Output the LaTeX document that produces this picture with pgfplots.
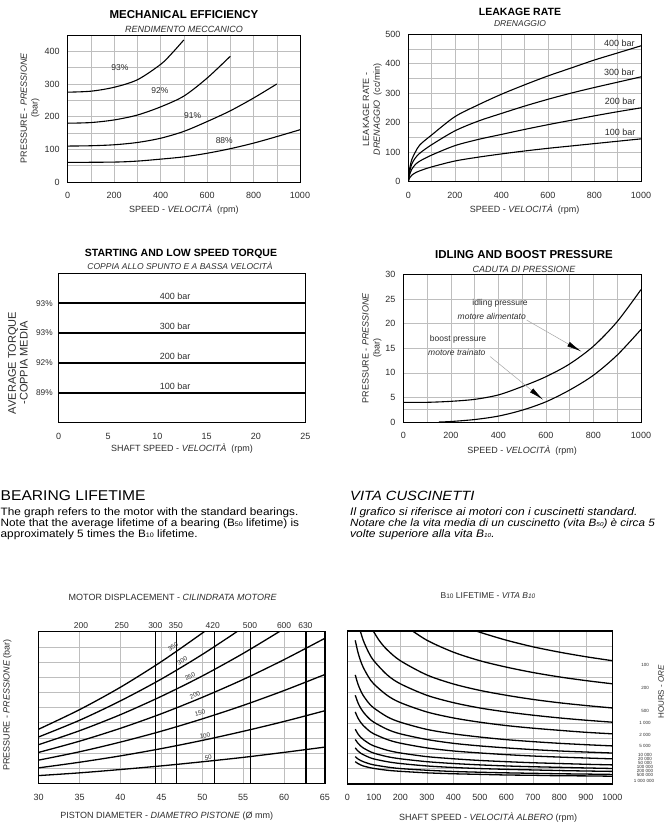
\documentclass[border=0pt]{standalone}
\usepackage{fontspec}
\setmainfont{Liberation Sans}
\newfontfamily\wide[FakeStretch=1.1]{Liberation Sans}
\usepackage{pgfplots}
\pgfplotsset{compat=1.18}
\usetikzlibrary{arrows.meta}
\definecolor{txt}{RGB}{45,45,45}
\definecolor{gridc}{RGB}{190,190,190}
\newcommand{\fsz}[2]{\fontsize{#1}{#2}\selectfont}
\newcommand{\sm}[1]{{\fontsize{6.5}{7}\selectfont #1}}
\newcommand{\smr}[1]{{\fontsize{5.8}{6}\selectfont #1}}
\pgfplotsset{
 mybase/.style={scale only axis, anchor=south west, clip mode=individual,
   font=\fsz{9}{10.8}, /pgf/number format/assume math mode=true, /pgf/number format/1000 sep={},
   axis line style={black, line width=1pt},
   tick label style={text=txt}, label style={text=txt},
   major tick length=0pt, minor tick length=0pt,
   grid style={gridc, line width=0.5pt}, minor grid style={gridc, line width=0.5pt},
   xticklabel style={yshift=-7pt}, yticklabel style={xshift=-4.5pt},
 },
 crv/.style={black, line width=1.1pt, smooth, mark=none},
 brg/.style={black, line width=1.3pt, smooth, mark=none},
}
\begin{document}
\begin{tikzpicture}
\path[use as bounding box, fill=white] (0,0) rectangle (671pt,-825pt);

% ---------------- Panel 1: Mechanical efficiency
\begin{axis}[mybase, at={(67.7pt,-182pt)}, width=232.3pt, height=147pt,
 xmin=0,xmax=1000,ymin=0,ymax=450,
 xtick={0,200,...,1000}, minor xtick={100,300,...,900},
 ytick={0,100,...,400}, minor ytick={50,150,...,450}, grid=both,
 xlabel={SPEED - \textit{VELOCITÀ}\ \ (rpm)},
 xlabel style={at={(axis description cs:0.5,-0.19)}, anchor=center},
 ylabel={PRESSURE - \textit{PRESSIONE}\\(bar)},
 ylabel style={at={(axis description cs:-0.162,0.503)}, anchor=center, align=center},
]
\addplot[crv] coordinates {(0,275)(100,278)(200,290)(300,313)(400,360)(450,395)(500,435)};
\addplot[crv] coordinates {(0,180)(100,182)(200,190)(300,205)(400,230)(500,263)(600,318)(700,385)};
\addplot[crv] coordinates {(0,110)(100,111)(200,114)(300,121)(400,134)(500,155)(600,185)(700,218)(800,257)(900,300)};
\addplot[crv] coordinates {(0,60)(200,61)(300,64)(400,70)(500,77)(600,88)(700,102)(800,119)(900,139)(1000,160)};
\node[font=\fsz{8.5}{9}, text=txt] at (axis cs:225,349) {93\%};
\node[font=\fsz{8.5}{9}, text=txt] at (axis cs:397,280) {92\%};
\node[font=\fsz{8.5}{9}, text=txt] at (axis cs:538,204) {91\%};
\node[font=\fsz{8.5}{9}, text=txt] at (axis cs:674,127) {88\%};
\end{axis}
\node[font=\bfseries\fsz{11.5}{12}] at (184pt,-15pt) {MECHANICAL EFFICIENCY};
\node[font=\itshape\fsz{9}{10}, text=txt] at (184pt,-29pt) {RENDIMENTO MECCANICO};

% ---------------- Panel 2: Leakage rate
\begin{axis}[mybase, at={(408.3pt,-181.7pt)}, width=232.7pt, height=147.7pt,
 xmin=0,xmax=1000,ymin=0,ymax=500,
 xtick={0,200,...,1000}, minor xtick={100,300,...,900},
 ytick={0,100,...,500}, minor ytick={50,150,...,450}, grid=both,
 xlabel={SPEED - \textit{VELOCITÀ}\ \ (rpm)},
 xlabel style={at={(axis description cs:0.5,-0.19)}, anchor=center},
 ylabel={LEAKAGE RATE -\\\textit{DRENAGGIO}\ \ (cc/min)},
 ylabel style={at={(axis description cs:-0.155,0.49)}, anchor=center, align=center},
]
\addplot[crv] coordinates {(0,0)(5,40)(15,75)(30,100)(50,125)(100,158)(200,220)(300,260)(400,296)(500,328)(600,358)(700,385)(800,412)(900,436)(1000,460)};
\addplot[crv] coordinates {(0,0)(5,30)(15,60)(30,80)(50,97)(100,125)(200,172)(300,205)(400,231)(500,256)(600,279)(700,300)(800,319)(900,337)(1000,355)};
\addplot[crv] coordinates {(0,0)(5,22)(15,42)(30,58)(50,70)(100,90)(200,122)(300,143)(400,160)(500,177)(600,193)(700,208)(800,223)(900,237)(1000,250)};
\addplot[crv] coordinates {(0,0)(5,12)(15,22)(30,30)(50,37)(100,50)(200,70)(300,83)(400,94)(500,104)(600,113)(700,121)(800,129)(900,137)(1000,145)};
\node[font=\fsz{9}{9}, text=txt] at (axis cs:907,468) {400 bar};
\node[font=\fsz{9}{9}, text=txt] at (axis cs:907,369) {300 bar};
\node[font=\fsz{9}{9}, text=txt] at (axis cs:910,271) {200 bar};
\node[font=\fsz{9}{9}, text=txt] at (axis cs:910,167) {100 bar};
\end{axis}
\node[font=\bfseries\fsz{10.5}{11}] at (520pt,-12.3pt) {LEAKAGE RATE};
\node[font=\itshape\fsz{8.5}{9}, text=txt] at (520pt,-24pt) {DRENAGGIO};

% ---------------- Panel 3: Starting torque
\begin{axis}[mybase, at={(58.7pt,-422.7pt)}, width=246.6pt, height=149.4pt,
 xmin=0,xmax=25,ymin=0,ymax=5,
 xtick={0,5,...,25}, ytick={1,2,3,4}, yticklabels={89\%,92\%,93\%,93\%},
 yticklabel style={xshift=2pt, font=\fsz{8.3}{9}},
 xlabel={SHAFT SPEED - \textit{VELOCITÀ}\ \ (rpm)},
 xlabel style={at={(axis description cs:0.5,-0.171)}, anchor=center},
 ylabel={AVERAGE TORQUE\\-COPPIA MEDIA},
 ylabel style={at={(axis description cs:-0.165,0.40)}, anchor=center, align=center, font=\fsz{11}{11.6}},
]
\addplot[black, line width=1.7pt] coordinates {(0,4)(25,4)};
\addplot[black, line width=1.7pt] coordinates {(0,3)(25,3)};
\addplot[black, line width=1.7pt] coordinates {(0,2)(25,2)};
\addplot[black, line width=1.7pt] coordinates {(0,1)(25,1)};
\node[font=\fsz{9}{9}, text=txt] at (axis cs:11.8,4.22) {400 bar};
\node[font=\fsz{9}{9}, text=txt] at (axis cs:11.8,3.22) {300 bar};
\node[font=\fsz{9}{9}, text=txt] at (axis cs:11.8,2.22) {200 bar};
\node[font=\fsz{9}{9}, text=txt] at (axis cs:11.8,1.22) {100 bar};
\end{axis}
\node[font=\bfseries\fsz{10.5}{11}] at (181pt,-254pt) {STARTING AND LOW SPEED TORQUE};
\node[font=\itshape\fsz{8.5}{9}, text=txt] at (180pt,-266pt) {COPPIA ALLO SPUNTO E A BASSA VELOCITÀ};

% ---------------- Panel 4: Idling and boost pressure
\begin{axis}[mybase, at={(403.3pt,-422pt)}, width=237.7pt, height=147.7pt,
 xmin=0,xmax=1000,ymin=0,ymax=30,
 xtick={0,200,...,1000}, minor xtick={100,300,...,900},
 ytick={0,5,...,30}, minor ytick={2.5}, grid=both,
 xlabel={SPEED - \textit{VELOCITÀ}\ \ (rpm)},
 xlabel style={at={(axis description cs:0.5,-0.19)}, anchor=center},
 ylabel={PRESSURE - \textit{PRESSIONE}\\(bar)},
 ylabel style={at={(axis description cs:-0.132,0.5)}, anchor=center, align=center},
]
\addplot[crv] coordinates {(0,4.0)(100,4.0)(200,4.2)(300,4.6)(400,5.5)(500,7.2)(600,9.2)(700,11.8)(800,15.4)(900,20.4)(1000,26.9)};
\addplot[crv] coordinates {(150,0)(200,0.1)(300,0.5)(400,1.2)(500,2.4)(600,4.1)(700,6.5)(800,9.5)(900,13.6)(1000,18.8)};
\draw[gray!70, line width=0.5pt, -{Latex[black,length=15pt,width=5pt]}] (axis cs:519,20.7) -- (axis cs:750,14.3);
\draw[gray!70, line width=0.5pt, -{Latex[black,length=15pt,width=5pt]}] (axis cs:365,13.3) -- (axis cs:589,4.5);
\node[font=\fsz{8.5}{9}, text=txt] at (axis cs:407,24.1) {idling pressure};
\node[font=\itshape\fsz{8.5}{9}, text=txt] at (axis cs:372,21.5) {motore alimentato};
\node[font=\fsz{8.5}{9}, text=txt] at (axis cs:230,16.7) {boost pressure};
\node[font=\itshape\fsz{8.5}{9}, text=txt] at (axis cs:225,14.1) {motore trainato};
\end{axis}
\node[font=\bfseries\fsz{11.5}{12}] at (524pt,-255pt) {IDLING AND BOOST PRESSURE};
\node[font=\itshape\fsz{9}{9}, text=txt] at (524pt,-269pt) {CADUTA DI PRESSIONE};

% ---------------- Text block
\node[anchor=base west, inner sep=0, font=\wide\fsz{14.2}{15}, text=black] at (0.5pt,-500pt) {BEARING LIFETIME};
\node[anchor=base west, inner sep=0, font=\wide\fsz{10.7}{11}, text=black] at (0.5pt,-515.7pt) {The graph refers to the motor with the standard bearings.};
\node[anchor=base west, inner sep=0, font=\wide\fsz{10.7}{11}, text=black] at (0.5pt,-526.7pt) {Note that the average lifetime of a bearing (B\sm{50} lifetime) is};
\node[anchor=base west, inner sep=0, font=\wide\fsz{10.7}{11}, text=black] at (0.5pt,-537.7pt) {approximately 5 times the B\sm{10} lifetime.};
\node[anchor=base west, inner sep=0, font=\wide\itshape\fsz{13.4}{14}, text=black] at (350pt,-500.7pt) {VITA CUSCINETTI};
\node[anchor=base west, inner sep=0, font=\wide\itshape\fsz{10.9}{11}, text=black] at (350pt,-515.7pt) {Il grafico si riferisce ai motori con i cuscinetti standard.};
\node[anchor=base west, inner sep=0, font=\wide\itshape\fsz{10.6}{11}, text=black] at (350pt,-526.7pt) {Notare che la vita media di un cuscinetto (vita B\smr{50}) è circa 5};
\node[anchor=base west, inner sep=0, font=\wide\itshape\fsz{10.9}{11}, text=black] at (350pt,-537.7pt) {volte superiore alla vita B\smr{10}.};

% ---------------- Panel 5: Motor displacement
\begin{axis}[mybase, at={(38.7pt,-783.3pt)}, width=286.3pt, height=151.6pt,
 axis line style={line width=1.4pt},
 xmin=30,xmax=65,ymin=0,ymax=10,
 xtick={30,35,...,65}, ytick={0,1,...,10}, yticklabels={}, grid=major,
 xlabel={PISTON DIAMETER - \textit{DIAMETRO PISTONE} (Ø mm)},
 xlabel style={at={(axis description cs:0.447,-0.22)}, anchor=center},
 ylabel={PRESSURE - \textit{PRESSIONE} (bar)},
 ylabel style={at={(axis description cs:-0.11,0.516)}, anchor=center},
]
\addplot[black, line width=1.1pt] coordinates {(44.26,0)(44.26,10)};
\addplot[black, line width=1.1pt] coordinates {(46.83,0)(46.83,10)};
\addplot[black, line width=1.1pt] coordinates {(51.47,0)(51.47,10)};
\addplot[black, line width=1.1pt] coordinates {(55.88,0)(55.88,10)};
\addplot[black, line width=1.1pt] coordinates {(62.68,0)(62.68,10)};
\addplot[brg] coordinates {(30,3.57)(35,4.86)(40,6.34)(45,8.03)(50,9.91)(52,10.72)};
\addplot[brg] coordinates {(30,3.06)(35,4.16)(40,5.44)(45,6.88)(50,8.50)(55,10.28)(57,11.04)};
\addplot[brg] coordinates {(30,2.55)(35,3.47)(40,4.53)(45,5.74)(50,7.08)(55,8.57)(60,10.20)(62,10.89)};
\addplot[brg] coordinates {(30,2.04)(35,2.78)(40,3.63)(45,4.59)(50,5.67)(55,6.85)(60,8.16)(65,9.57)};
\addplot[brg] coordinates {(30,1.53)(35,2.08)(40,2.72)(45,3.44)(50,4.25)(55,5.14)(60,6.12)(65,7.18)};
\addplot[brg] coordinates {(30,1.02)(35,1.39)(40,1.81)(45,2.29)(50,2.83)(55,3.43)(60,4.08)(65,4.79)};
\addplot[brg] coordinates {(30,0.51)(35,0.69)(40,0.91)(45,1.15)(50,1.42)(55,1.71)(60,2.04)(65,2.39)};
\node[font=\fsz{6.3}{6.5}, text=txt, inner sep=0.5pt, rotate=33] at (axis cs:46.42,9.01) {350};
\node[font=\fsz{6.3}{6.5}, text=txt, inner sep=0.5pt, rotate=30] at (axis cs:47.55,8.10) {300};
\node[font=\fsz{6.3}{6.5}, text=txt, inner sep=0.5pt, rotate=26] at (axis cs:48.5,7.03) {250};
\node[font=\fsz{6.3}{6.5}, text=txt, inner sep=0.5pt, rotate=22] at (axis cs:49.11,5.82) {200};
\node[font=\fsz{6.3}{6.5}, text=txt, inner sep=0.5pt, rotate=17] at (axis cs:49.72,4.62) {150};
\node[font=\fsz{6.3}{6.5}, text=txt, inner sep=0.5pt, rotate=12] at (axis cs:50.33,3.14) {100};
\node[font=\fsz{6.3}{6.5}, text=txt, inner sep=0.5pt, rotate=6] at (axis cs:50.73,1.69) {50};
\end{axis}
\begin{axis}[mybase, at={(38.7pt,-783.3pt)}, width=286.3pt, height=151.6pt,
 axis x line*=top, axis y line=none, axis line style={line width=1.4pt},
 xmin=30,xmax=65,ymin=0,ymax=1,
 xtick={35.18,40.15,44.26,46.75,51.27,55.84,60.0,62.6},
 xticklabels={200,250,300,350,420,500,600,630},
 xticklabel style={yshift=7pt, font=\fsz{8.5}{9}},
]
\end{axis}
\node[font=\fsz{9}{10}, text=txt] at (172.7pt,-597.3pt) {MOTOR DISPLACEMENT - \textit{CILINDRATA MOTORE}};

% ---------------- Panel 6: B10 lifetime
\begin{axis}[mybase, at={(347.3pt,-784pt)}, width=265pt, height=153pt,
 axis line style={line width=1.4pt},
 xmin=0,xmax=1000,ymin=0,ymax=10,
 xtick={0,100,...,1000}, ytick={0,1,...,10}, yticklabels={}, grid=major,
 xlabel={SHAFT SPEED - \textit{VELOCITÀ ALBERO} (rpm)},
 xlabel style={at={(axis description cs:0.531,-0.218)}, anchor=center},
]
\addplot[brg] coordinates {(450,10.24)(500,9.92)(600,9.40)(700,8.97)(800,8.62)(900,8.32)(1000,8.06)};
\addplot[brg] coordinates {(220,10.32)(300,9.40)(400,8.62)(500,8.06)(600,7.64)(700,7.29)(800,7.00)(900,6.76)(1000,6.55)};
\addplot[brg] coordinates {(90,10.23)(120,9.39)(150,8.78)(200,8.06)(300,7.13)(400,6.54)(500,6.12)(600,5.80)(700,5.53)(800,5.31)(900,5.13)(1000,4.97)};
\addplot[brg] coordinates {(45,10.24)(60,9.40)(80,8.62)(100,8.06)(150,7.14)(200,6.55)(300,5.80)(400,5.32)(500,4.97)(600,4.71)(700,4.50)(800,4.32)(900,4.17)(1000,4.04)};
\addplot[brg] coordinates {(30,9.39)(40,8.62)(50,8.06)(60,7.63)(80,7.00)(100,6.54)(150,5.80)(200,5.32)(300,4.71)(400,4.32)(500,4.04)(600,3.82)(700,3.65)(800,3.51)(900,3.38)(1000,3.28)};
\addplot[brg] coordinates {(30,7.13)(40,6.54)(50,6.12)(60,5.79)(80,5.31)(100,4.97)(150,4.40)(200,4.04)(300,3.57)(400,3.28)(500,3.07)(600,2.90)(700,2.77)(800,2.66)(900,2.57)(1000,2.49)};
\addplot[brg] coordinates {(30,5.80)(40,5.32)(50,4.97)(60,4.71)(80,4.32)(100,4.04)(150,3.58)(200,3.28)(300,2.91)(400,2.66)(500,2.49)(600,2.36)(700,2.25)(800,2.16)(900,2.09)(1000,2.025)};
\addplot[brg] coordinates {(30,4.71)(40,4.32)(50,4.04)(60,3.83)(80,3.51)(100,3.28)(150,2.91)(200,2.67)(300,2.36)(400,2.16)(500,2.03)(600,1.92)(700,1.83)(800,1.76)(900,1.70)(1000,1.645)};
\addplot[brg] coordinates {(30,3.58)(40,3.28)(50,3.07)(60,2.91)(80,2.67)(100,2.49)(150,2.21)(200,2.03)(300,1.79)(400,1.65)(500,1.54)(600,1.46)(700,1.39)(800,1.34)(900,1.29)(1000,1.25)};
\addplot[brg] coordinates {(30,2.91)(40,2.67)(50,2.49)(60,2.36)(80,2.17)(100,2.02)(150,1.79)(200,1.65)(300,1.46)(400,1.34)(500,1.25)(600,1.18)(700,1.13)(800,1.09)(900,1.05)(1000,1.015)};
\addplot[brg] coordinates {(30,2.36)(40,2.16)(50,2.02)(60,1.92)(80,1.76)(100,1.64)(150,1.46)(200,1.34)(300,1.18)(400,1.08)(500,1.01)(600,0.96)(700,0.92)(800,0.88)(900,0.85)(1000,0.824)};
\addplot[brg] coordinates {(30,1.79)(40,1.64)(50,1.54)(60,1.46)(80,1.34)(100,1.25)(150,1.11)(200,1.01)(300,0.90)(400,0.82)(500,0.77)(600,0.73)(700,0.70)(800,0.67)(900,0.65)(1000,0.626)};
\addplot[brg] coordinates {(30,1.46)(40,1.34)(50,1.25)(60,1.18)(80,1.09)(100,1.02)(150,0.90)(200,0.83)(300,0.73)(400,0.67)(500,0.63)(600,0.59)(700,0.57)(800,0.54)(900,0.53)(1000,0.509)};
\end{axis}
\node[font=\fsz{8.5}{9}, text=txt] at (488pt,-596pt) {B\sm{10} LIFETIME - \textit{VITA B\sm{10}}};
% hours labels
\begin{scope}[every node/.style={font=\fsz{4.5}{4.5}, text=txt, inner sep=0}]
\node at (645pt,-665pt) {100};
\node at (645pt,-688pt) {200};
\node at (645pt,-711pt) {500};
\node at (645pt,-723pt) {1 000};
\node at (645pt,-735pt) {2 000};
\node at (645pt,-746pt) {5 000};
\node at (645pt,-755pt) {10 000};
\node at (645pt,-759pt) {20 000};
\node at (645pt,-763pt) {50 000};
\node at (645pt,-767pt) {100 000};
\node at (645pt,-771pt) {200 000};
\node at (645pt,-775pt) {500 000};
\node at (644pt,-781pt) {1 000 000};
\end{scope}
\node[rotate=90, font=\fsz{8}{8}, text=txt] at (661pt,-692pt) {HOURS - \textit{ORE}};
\end{tikzpicture}
\end{document}
